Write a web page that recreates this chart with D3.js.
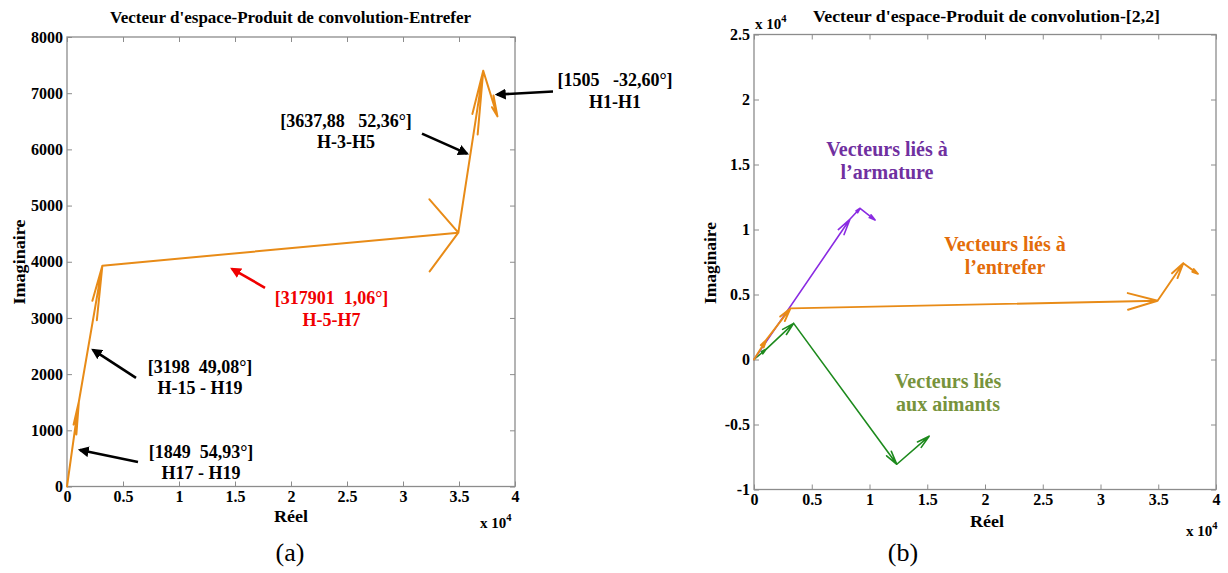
<!DOCTYPE html>
<html><head><meta charset="utf-8">
<script src="https://cdn.jsdelivr.net/npm/d3@7"></script>
<style>
body{margin:0;background:#fff;}
svg text{font-family:"Liberation Serif","Times New Roman",serif;}
</style></head><body>
<svg id="c" width="1228" height="573"></svg>
<script>
// ---------------- DATA ----------------
// Entrefer (air-gap) harmonic vectors: modules and angles (deg), chained tip to tail
const entreferModules = [1849, 3198, 31790.1, 3637.88, 1505];
const entreferAngles  = [54.93, 49.08, 1.06, 52.36, -32.60];
const entreferValueLabels = ["[1849  54,93°]", "[3198  49,08°]", "[317901  1,06°]", "[3637,88   52,36°]", "[1505   -32,60°]"];
const entreferHarmLabels  = ["H17 - H19", "H-15 - H19", "H-5-H7", "H-3-H5", "H1-H1"];
// Armature vectors
const armatureModules = [13635, 1199, 1584];
const armatureAngles  = [52.4, 43.8, -34.9];
// Magnet vectors
const aimantsModules = [1302, 3114, 14043, 3534];
const aimantsAngles  = [37.0, 39.8, -50.5, 37.7];
// Axis ticks
const xTickValues  = [0, 5000, 10000, 15000, 20000, 25000, 30000, 35000, 40000];
const xTickLabels  = ["0", "0.5", "1", "1.5", "2", "2.5", "3", "3.5", "4"];
const yTickValuesA = [0, 1000, 2000, 3000, 4000, 5000, 6000, 7000, 8000];
const yTickLabelsA = ["0", "1000", "2000", "3000", "4000", "5000", "6000", "7000", "8000"];
const yTickValuesB = [-10000, -5000, 0, 5000, 10000, 15000, 20000, 25000];
const yTickLabelsB = ["-1", "-0.5", "0", "0.5", "1", "1.5", "2", "2.5"];

// ---------------- HELPERS ----------------
function chain(mods, angs) {
  const pts = [[0, 0]];
  mods.forEach((m, i) => {
    const a = angs[i] * Math.PI / 180, p = pts[pts.length - 1];
    pts.push([p[0] + m * Math.cos(a), p[1] + m * Math.sin(a)]);
  });
  return pts;
}
const svg = d3.select("#c");
const ORANGE = "#E88B17", PURPLE = "#8A2BE2", GREEN = "#1D8A1D";
const AXIS = "#8c8c8c";

svg.append("defs").selectAll("marker").data([["blk", "#000"], ["red", "#F00000"]]).join("marker")
  .attr("id", d => "m" + d[0]).attr("viewBox", "0 0 10 10").attr("refX", 8).attr("refY", 5)
  .attr("markerWidth", 4.2).attr("markerHeight", 4.2).attr("orient", "auto")
  .append("path").attr("d", "M0,0 L10,5 L0,10 Z").attr("fill", d => d[1]);

function drawAxes(g, x, y, xVals, xLabs, yVals, yLabs) {
  const [x0, x1] = x.range(), [y1, y0] = y.range();
  const fmtX = v => xLabs[xVals.indexOf(v)], fmtY = v => yLabs[yVals.indexOf(v)];
  const style = sel => {
    sel.selectAll(".domain").remove();
    sel.selectAll("line").attr("stroke", AXIS);
    sel.selectAll("text").attr("font-size", 16).attr("font-weight", "bold").attr("fill", "#000");
  };
  g.append("g").attr("transform", `translate(0,${y1})`)
    .call(d3.axisBottom(x).tickValues(xVals).tickFormat(fmtX).tickSizeInner(-5).tickSizeOuter(0).tickPadding(4)).call(style);
  g.append("g").attr("transform", `translate(0,${y0})`)
    .call(d3.axisTop(x).tickValues(xVals).tickFormat("").tickSizeInner(-5).tickSizeOuter(0)).call(style);
  g.append("g").attr("transform", `translate(${x0},0)`)
    .call(d3.axisLeft(y).tickValues(yVals).tickFormat(fmtY).tickSizeInner(-5).tickSizeOuter(0).tickPadding(4)).call(style);
  g.append("g").attr("transform", `translate(${x1},0)`)
    .call(d3.axisRight(y).tickValues(yVals).tickFormat("").tickSizeInner(-5).tickSizeOuter(0)).call(style);
  g.append("rect").attr("x", x0).attr("y", y0).attr("width", x1 - x0).attr("height", y1 - y0)
    .attr("fill", "none").attr("stroke", AXIS).attr("stroke-width", 1.3);
}

function drawVectors(g, x, y, pts, color, width, cap) {
  const theta = 14 * Math.PI / 180;
  let d = "";
  for (let i = 1; i < pts.length; i++) {
    const [ax, ay] = pts[i - 1], [bx, by] = pts[i];
    const L = Math.hypot(bx - ax, by - ay), h = Math.min(0.34 * L, cap);
    const ang = Math.atan2(by - ay, bx - ax) + Math.PI;
    const b1 = [bx + h * Math.cos(ang - theta), by + h * Math.sin(ang - theta)];
    const b2 = [bx + h * Math.cos(ang + theta), by + h * Math.sin(ang + theta)];
    d += `M${x(ax)},${y(ay)}L${x(bx)},${y(by)}M${x(b1[0])},${y(b1[1])}L${x(bx)},${y(by)}L${x(b2[0])},${y(b2[1])}`;
  }
  g.append("path").attr("d", d).attr("fill", "none").attr("stroke", color)
    .attr("stroke-width", width).attr("stroke-linejoin", "round").attr("stroke-linecap", "round");
}

function titleText(g, cx, yy, txt, len) {
  g.append("text").attr("x", cx).attr("y", yy).attr("text-anchor", "middle")
    .attr("font-size", 17).attr("font-weight", "bold")
    .attr("textLength", len).attr("lengthAdjust", "spacingAndGlyphs").text(txt);
}
function x10(g, xx, yy) {
  const t = g.append("text").attr("x", xx).attr("y", yy).attr("font-size", 15).attr("font-weight", "bold");
  t.append("tspan").text("x 10");
  t.append("tspan").attr("dy", -7).attr("font-size", 10.5).text("4");
}
function axisLabel(g, x, y, rot, txt, len) {
  g.append("text").attr("transform", `translate(${x},${y}) rotate(${rot})`).attr("text-anchor", "middle")
    .attr("font-size", 17).attr("font-weight", "bold")
    .attr("textLength", len).attr("lengthAdjust", "spacingAndGlyphs").text(txt);
}

// ---------------- CHART (a) ----------------
const gA = svg.append("g");
const xA = d3.scaleLinear().domain([0, 40000]).range([67, 515]);
const yA = d3.scaleLinear().domain([0, 8000]).range([486.5, 37]);
drawAxes(gA, xA, yA, xTickValues, xTickLabels, yTickValuesA, yTickLabelsA);
const ptsEntrefer = chain(entreferModules, entreferAngles);
drawVectors(gA, xA, yA, ptsEntrefer, ORANGE, 2, 2650);
titleText(gA, 290.5, 23, "Vecteur d'espace-Produit de convolution-Entrefer", 361);
axisLabel(gA, 291, 522, 0, "Réel", 34);
axisLabel(gA, 25, 262, -90, "Imaginaire", 85);
x10(gA, 480, 528);
gA.append("text").attr("x", 290).attr("y", 561).attr("text-anchor", "middle").attr("font-size", 26).text("(a)");

// annotations (data-space anchors: arrow start, arrow end, text centre, baselines)
const annA = [
  {i: 0, s: [6339, 437],   e: [1161, 650],   tx: 11964, b: [505, 131],   c: "#000", m: "blk"},
  {i: 1, s: [6161, 1933],  e: [2321, 2432],  tx: 11875, b: [2022, 1648], c: "#000", m: "blk"},
  {i: 2, s: [17679, 3537], e: [14732, 3875], tx: 23616, b: [3252, 2860], c: "#F00000", m: "red"},
  {i: 3, s: [31696, 6281], e: [35714, 5924], tx: 24911, b: [6406, 6031], c: "#000", m: "blk"},
  {i: 4, s: [43393, 7029], e: [38393, 6976], tx: 48929, b: [7136, 6744], c: "#000", m: "blk"}
];
annA.forEach(a => {
  gA.append("line").attr("x1", xA(a.s[0])).attr("y1", yA(a.s[1])).attr("x2", xA(a.e[0])).attr("y2", yA(a.e[1]))
    .attr("stroke", a.c).attr("stroke-width", 2.6).attr("marker-end", `url(#m${a.m})`);
  gA.append("text").attr("x", xA(a.tx)).attr("y", yA(a.b[0])).attr("text-anchor", "middle").attr("font-size", 18)
    .attr("font-weight", "bold").attr("fill", a.c).attr("xml:space", "preserve").style("white-space", "pre").text(entreferValueLabels[a.i]);
  gA.append("text").attr("x", xA(a.tx)).attr("y", yA(a.b[1])).attr("text-anchor", "middle").attr("font-size", 18)
    .attr("font-weight", "bold").attr("fill", a.c).text(entreferHarmLabels[a.i]);
});

// ---------------- CHART (b) ----------------
const gB = svg.append("g");
const xB = d3.scaleLinear().domain([0, 40000]).range([754, 1216]);
const yB = d3.scaleLinear().domain([-10000, 25000]).range([489.5, 34.5]);
drawAxes(gB, xB, yB, xTickValues, xTickLabels, yTickValuesB, yTickLabelsB);
drawVectors(gB, xB, yB, chain(aimantsModules, aimantsAngles), GREEN, 1.6, 1100);
drawVectors(gB, xB, yB, chain(armatureModules, armatureAngles), PURPLE, 1.6, 1300);
drawVectors(gB, xB, yB, ptsEntrefer, ORANGE, 1.9, 2650);
titleText(gB, 986.5, 22, "Vecteur d'espace-Produit de convolution-[2,2]", 347);
axisLabel(gB, 987, 527, 0, "Réel", 34);
axisLabel(gB, 716, 263, -90, "Imaginaire", 82);
x10(gB, 755, 29);
x10(gB, 1186, 536);
gB.append("text").attr("x", 903).attr("y", 561).attr("text-anchor", "middle").attr("font-size", 26).text("(b)");

const annB = [
  {t: ["Vecteurs liés à", "l\u2019armature"], x: 11515, b: [15654, 13885], c: "#7030A0"},
  {t: ["Vecteurs liés à", "l\u2019entrefer"], x: 21732, b: [8346, 6577], c: "#E36C09"},
  {t: ["Vecteurs liés", "aux aimants"], x: 16797, b: [-2192, -3962], c: "#77933C"}
];
annB.forEach(a => a.t.forEach((s, k) => {
  gB.append("text").attr("x", xB(a.x)).attr("y", yB(a.b[k])).attr("text-anchor", "middle")
    .attr("font-size", 20).attr("font-weight", "bold").attr("fill", a.c).text(s);
}));
</script></body></html>
